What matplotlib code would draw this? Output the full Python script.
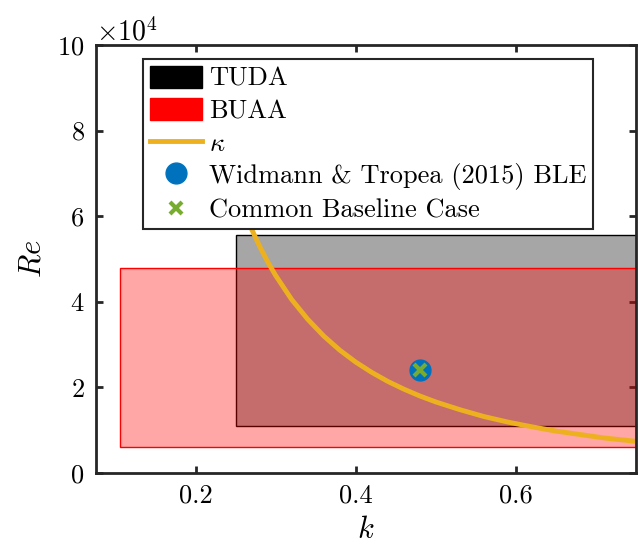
import matplotlib
matplotlib.use("Agg")
import matplotlib.pyplot as plt
from matplotlib.patches import Rectangle, Patch
from matplotlib.lines import Line2D

plt.rcParams["font.family"] = "serif"
plt.rcParams["font.serif"] = ["cmr10"]
plt.rcParams["mathtext.fontset"] = "cm"
plt.rcParams["axes.formatter.use_mathtext"] = True
plt.rcParams["axes.unicode_minus"] = False

# Test ranges (k_min, k_max, Re_min, Re_max)
tuda_range = [0.25, 0.80, 1.11e4, 5.55e4]
buaa_range = [0.105, 0.80, 0.60e4, 4.79e4]

# kappa curve
kappa_k = [0.21, 0.22, 0.23, 0.24, 0.25, 0.26, 0.27, 0.28, 0.29, 0.30, 0.32, 0.34,
           0.36, 0.38, 0.40, 0.42, 0.44, 0.46, 0.48, 0.50, 0.53, 0.56, 0.59, 0.62,
           0.65, 0.68, 0.71, 0.74, 0.76]
kappa_re = [9.41e4, 8.58e4, 7.84e4, 7.20e4, 6.64e4, 6.14e4, 5.69e4, 5.29e4, 4.93e4,
            4.61e4, 4.05e4, 3.59e4, 3.20e4, 2.87e4, 2.59e4, 2.35e4, 2.14e4, 1.96e4,
            1.80e4, 1.66e4, 1.48e4, 1.32e4, 1.19e4, 1.08e4, 0.98e4, 0.90e4, 0.82e4,
            0.76e4, 0.72e4]

# single cases
ble_k, ble_re = [0.48], [2.4e4]
base_k, base_re = [0.48], [2.4e4]

dark = "#262626"
yellow = "#EDB120"
blue = "#0072BD"
green = "#77AC30"

fig = plt.figure(figsize=(6.4, 5.49), dpi=100)
ax = fig.add_axes([0.1495, 0.1384, 0.8442, 0.7796])

ax.add_patch(Rectangle((tuda_range[0], tuda_range[2]), tuda_range[1] - tuda_range[0],
                       tuda_range[3] - tuda_range[2], facecolor=(0, 0, 0, 0.35),
                       edgecolor="black", linewidth=1.0, zorder=1))
ax.add_patch(Rectangle((buaa_range[0], buaa_range[2]), buaa_range[1] - buaa_range[0],
                       buaa_range[3] - buaa_range[2], facecolor=(1, 0, 0, 0.35),
                       edgecolor="red", linewidth=1.0, zorder=2))

ax.plot(kappa_k, kappa_re, color=yellow, linewidth=3.5, zorder=3)
ax.plot(ble_k, ble_re, "o", color=blue, markersize=15, zorder=4)
ax.plot(base_k, base_re, "x", color=green, markersize=9, markeredgewidth=3, zorder=5)

ax.set_xlim(0.075, 0.75)
ax.set_ylim(0, 1e5)
ax.set_xticks([0.2, 0.4, 0.6])
ax.set_xticklabels(["0.2", "0.4", "0.6"])
ax.set_yticks([0, 2e4, 4e4, 6e4, 8e4, 1e5])
ax.ticklabel_format(axis="y", style="sci", scilimits=(4, 4))

for s in ax.spines.values():
    s.set_linewidth(2)
    s.set_color(dark)
    s.set_zorder(6)
ax.tick_params(direction="in", length=5, width=2, colors=dark, labelsize=19,
               top=True, right=True, labelcolor="black", pad=8)
ax.yaxis.get_offset_text().set_fontsize(20)

ax.set_xlabel("$k$", fontsize=22, labelpad=6)
ax.set_ylabel("$Re$", fontsize=22, labelpad=8)

handles = [
    Patch(facecolor="black", edgecolor="black"),
    Patch(facecolor="red", edgecolor="red"),
    Line2D([], [], color=yellow, linewidth=3.5),
    Line2D([], [], marker="o", color=blue, linestyle="none", markersize=15),
    Line2D([], [], marker="x", color=green, linestyle="none", markersize=9, markeredgewidth=3),
]
labels = ["TUDA", "BUAA", r"$\kappa$", "Widmann & Tropea (2015) BLE", "Common Baseline Case"]
leg = ax.legend(handles, labels, loc="upper left", bbox_to_anchor=(0.0875, 0.9666),
                borderaxespad=0, fontsize=19, frameon=True, fancybox=False, framealpha=1,
                handlelength=2.0, handleheight=0.9, handletextpad=0.25,
                labelspacing=0.28, borderpad=0.25)
leg.get_frame().set_edgecolor(dark)
leg.get_frame().set_linewidth(1.5)
leg.set_zorder(7)

fig.savefig("out.png", dpi=100)
